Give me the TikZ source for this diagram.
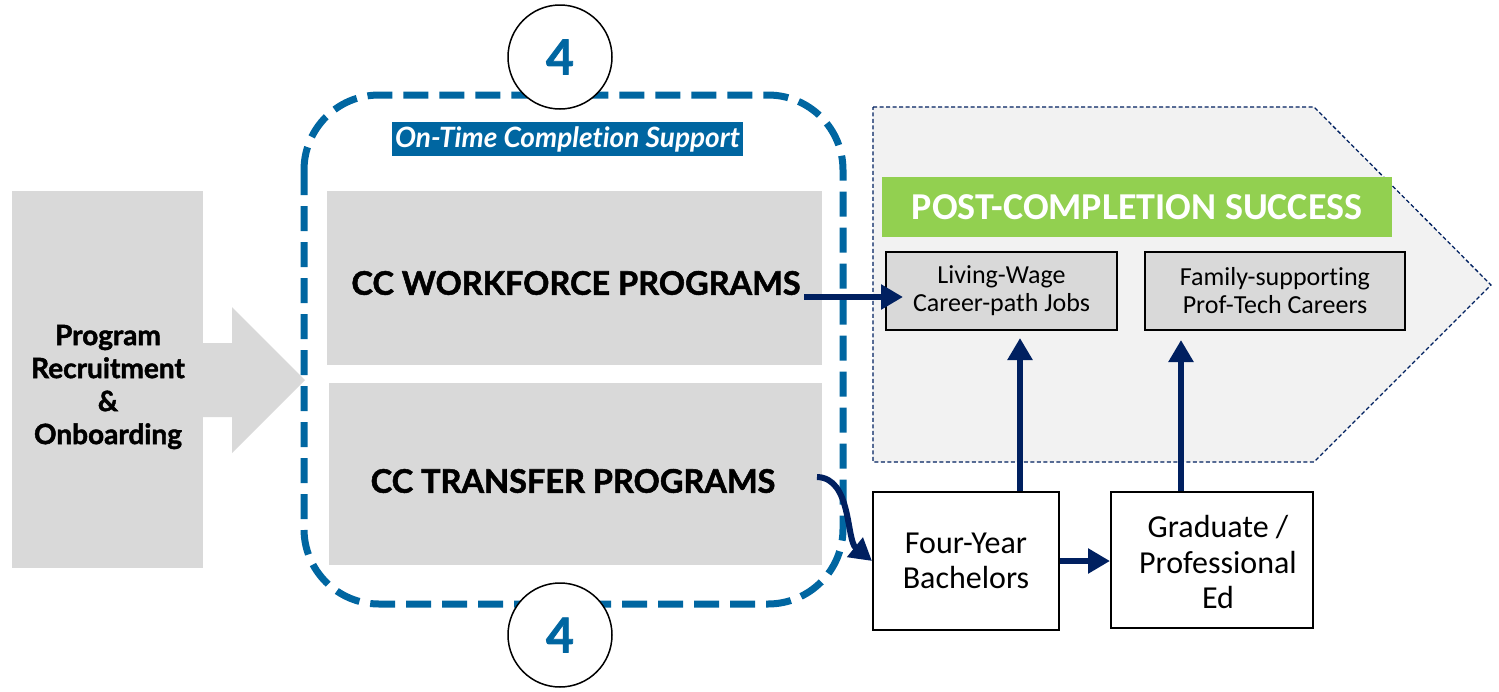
\documentclass[tikz,border=0pt]{standalone}
\usepackage{fontspec}
\setmainfont{Carlito}[Ligatures=NoCommon]
\newfontfamily\latofont{Lato}[Ligatures=NoCommon, BoldFeatures={FakeBold=1.6}]
\newfontfamily\latoplain{Lato}[Ligatures=NoCommon]
\usetikzlibrary{arrows.meta,calc}
\definecolor{navy}{HTML}{002060}
\definecolor{ccblue}{HTML}{0066A1}
\definecolor{boxgray}{HTML}{D9D9D9}
\definecolor{panelgray}{HTML}{F2F2F2}
\definecolor{postgreen}{HTML}{92D050}
\begin{document}
\begin{tikzpicture}[x=1pt,y=-1pt,
  arr/.style={navy, line width=6pt, -{Triangle[length=22pt,width=24pt]}},
  graybox/.style={fill=boxgray, draw=none, inner sep=0pt},
  outbox/.style={fill=boxgray, draw=black, line width=2pt, inner sep=0pt, align=center,
     font=\fontsize{26}{28}\selectfont},
  edbox/.style={fill=white, draw=black, line width=2pt, inner sep=0pt, align=center,
     font=\fontsize{32}{35.5}\selectfont},
  bighead/.style={font=\latofont\bfseries\fontsize{32.5}{38}\selectfont, inner sep=0pt},
  numcircle/.style={circle, fill=white, draw=black, line width=1.5pt, minimum size=104pt,
     inner sep=0pt, text=ccblue, font=\latofont\bfseries\fontsize{48}{48}\selectfont}]
\useasboundingbox (0,0) rectangle (1499,691);
\fill[white] (0,0) rectangle (1499,691);

% left recruitment box
\node[graybox, minimum width=191pt, minimum height=377pt] (rec) at (107.5,379.5) {};
\node[align=center, inner sep=0pt,
  font=\latofont\bfseries\fontsize{28}{33}\selectfont] (recl) at (108,387)
  {Program\\Recruitment\\\&\\Onboarding};
\fill[boxgray] (rec.east |- 0,343) -- (232,343) -- (232,307) -- (305,380)
  -- (232,453) -- (232,417) -- (rec.east |- 0,417) -- cycle;

% post-completion panel
\draw[navy, line width=1.3pt, dash pattern=on 4pt off 2.5pt, fill=panelgray]
  (873,107) -- (1314,107) -- (1491,285) -- (1314,462) -- (873,462) -- cycle;

% dashed support frame
\draw[ccblue, line width=7pt, dash pattern=on 25pt off 11pt, rounded corners=75pt]
  (304,95) rectangle (843,604);

% program boxes
\node[graybox, minimum width=495pt, minimum height=174pt] (wf) at (574.5,278) {};
\node[graybox, minimum width=493pt, minimum height=182pt] (tr) at (575.5,474) {};
\node[bighead] (wfl) at (576,283) {CC WORKFORCE PROGRAMS};
\node[bighead] (trl) at (573,481) {CC TRANSFER PROGRAMS};

% support label
\node[fill=ccblue, text=white, minimum width=351pt, minimum height=34pt, inner sep=0pt,
  font=\latoplain\bfseries\itshape\fontsize{28}{28}\selectfont] (sup) at (567.5,139)
  {On-Time Completion Support};

% circles
\node[numcircle] (c1) at (560,57) {4};
\node[numcircle] (c2) at (560,635) {4};

% post completion
\node[fill=postgreen, text=white, minimum width=510pt, minimum height=60pt, inner sep=0pt,
  font=\bfseries\fontsize{38}{38}\selectfont] (pcs) at (1137,207) {POST-COMPLETION SUCCESS};
\node[outbox, minimum width=231pt, minimum height=78pt] (liv) at (1001.5,291)
  {Living-Wage\\Career-path Jobs};
\node[outbox, minimum width=260pt, minimum height=78pt] (fam) at (1275,291)
  {Family-supporting\\Prof-Tech Careers};
\node[edbox, minimum width=186pt, minimum height=138pt] (fy) at (966,561)
  {Four-Year\\Bachelors};
\node[edbox, minimum width=202pt, minimum height=136pt] (gr) at (1212,560) {};
\node[align=center, inner sep=0pt, font=\fontsize{32}{35.5}\selectfont] (grl) at (1218,562)
  {Graduate /\\Professional\\Ed};

% connectors
\coordinate (wa) at (804,297);
\coordinate (ta) at (817,477);
\coordinate (ua) at (1020,0);
\coordinate (ub) at (1181,0);
\draw[arr, shorten >=-18pt] (wa) -- (wa -| liv.west);
\draw[arr] (ta) .. controls (852,478) and (846,540) .. (fy.west);
\draw[arr] (fy.east) -- (fy.east -| gr.west);
\draw[arr, shorten >=7pt] (fy.north -| ua) -- (liv.south -| ua);
\draw[arr, shorten >=9pt] (gr.north -| ub) -- (fam.south -| ub);
\end{tikzpicture}
\end{document}
